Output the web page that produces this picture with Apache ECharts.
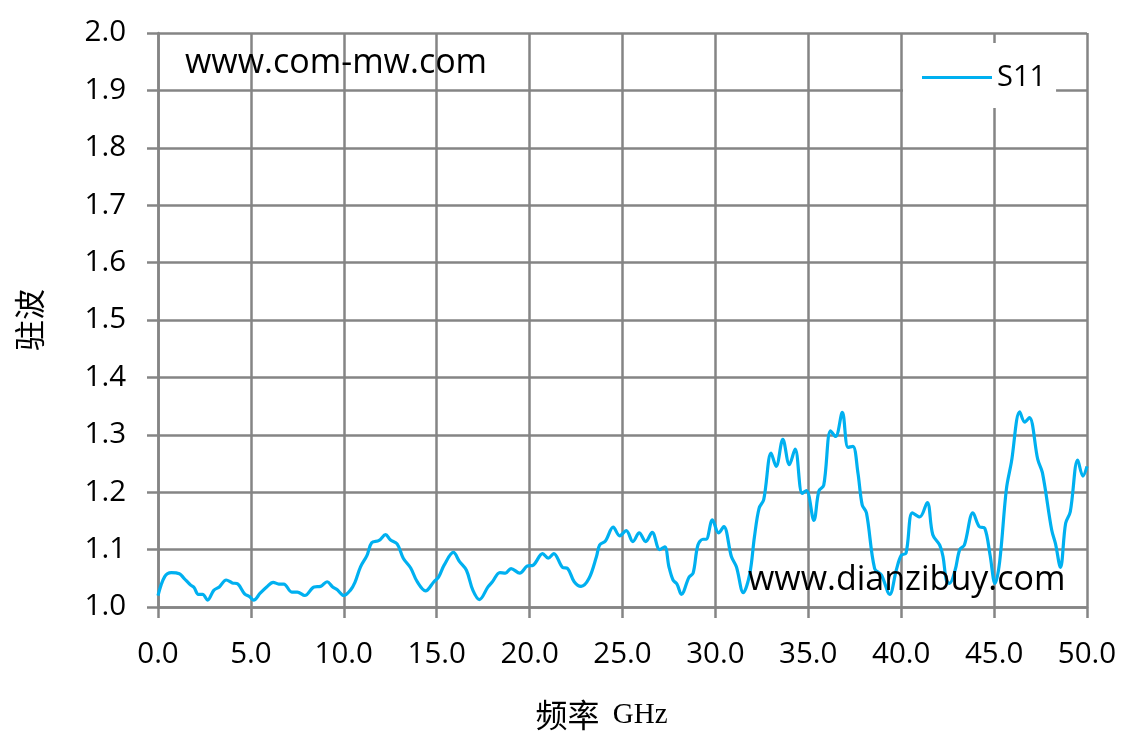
<!DOCTYPE html>
<html>
<head>
<meta charset="utf-8">
<script src="https://cdn.jsdelivr.net/npm/echarts@6/dist/echarts.min.js"></script>
<style>html,body{margin:0;padding:0;background:#fff;}#c{width:1128px;height:738px;}</style>
</head>
<body>
<div id="c"></div>
<script>
const seriesName = 'S11';
const xAxisName = ['频率', 'GHz'];
const yAxisName = '驻波';
const watermarks = ['www.com-mw.com', 'www.dianzibuy.com'];
const freqGHz = [0.0,0.36,0.72,1.15,1.4,1.76,1.94,2.17,2.4,2.67,3.0,3.3,3.67,4.0,4.3,4.66,4.93,5.15,5.5,5.85,6.2,6.5,6.77,7.2,7.5,7.9,8.4,8.75,9.1,9.4,9.65,10.0,10.35,10.6,10.9,11.25,11.5,11.9,12.25,12.5,12.87,13.2,13.6,13.95,14.4,14.85,15.1,15.4,15.9,16.23,16.6,16.95,17.3,17.76,18.0,18.4,18.7,19.0,19.47,19.86,20.2,20.7,21.0,21.3,21.77,22.05,22.4,22.77,23.2,23.6,23.77,24.08,24.5,24.85,25.2,25.56,25.9,26.25,26.6,27.0,27.27,27.5,27.72,27.93,28.17,28.58,28.8,29.06,29.33,29.5,29.84,30.17,30.45,30.86,31.13,31.5,31.85,32.1,32.35,32.6,33.0,33.27,33.63,33.98,34.29,34.67,34.9,35.3,35.57,35.83,36.2,36.47,36.83,37.14,37.4,37.67,37.9,38.13,38.57,38.93,39.38,39.74,40.0,40.26,40.6,41.0,41.4,41.7,42.07,42.25,42.43,42.6,42.9,43.15,43.4,43.86,44.2,44.5,44.78,45.05,45.3,45.66,45.93,46.38,46.65,46.9,47.35,47.6,48.1,48.3,48.57,48.85,49.1,49.5,49.78,50.0];
const vswr = [1.020,1.053,1.060,1.058,1.050,1.038,1.034,1.022,1.022,1.012,1.029,1.035,1.047,1.042,1.040,1.023,1.018,1.012,1.024,1.035,1.043,1.040,1.040,1.026,1.026,1.020,1.035,1.036,1.044,1.035,1.030,1.020,1.029,1.043,1.070,1.090,1.112,1.116,1.126,1.117,1.110,1.085,1.068,1.044,1.028,1.044,1.052,1.073,1.095,1.079,1.064,1.029,1.013,1.035,1.044,1.060,1.059,1.067,1.059,1.071,1.073,1.093,1.085,1.093,1.069,1.067,1.044,1.036,1.050,1.088,1.108,1.115,1.139,1.124,1.133,1.114,1.129,1.114,1.130,1.100,1.105,1.070,1.047,1.040,1.022,1.052,1.059,1.108,1.118,1.118,1.152,1.129,1.140,1.088,1.070,1.025,1.058,1.122,1.172,1.187,1.268,1.245,1.292,1.248,1.275,1.198,1.203,1.151,1.202,1.212,1.307,1.297,1.339,1.278,1.280,1.234,1.178,1.164,1.067,1.056,1.022,1.065,1.090,1.094,1.164,1.157,1.182,1.126,1.108,1.088,1.047,1.041,1.064,1.100,1.108,1.164,1.140,1.137,1.091,1.041,1.079,1.205,1.252,1.340,1.322,1.330,1.257,1.234,1.134,1.111,1.069,1.146,1.166,1.256,1.228,1.245];

const data = freqGHz.map((f, i) => [f, vswr[i]]);
const gridColor = '#858585';
const chart = echarts.init(document.getElementById('c'), null, {renderer: 'canvas'});
chart.setOption({
  animation: false,
  backgroundColor: '#fff',
  grid: {left: 158, right: 41, top: 33, bottom: 131, containLabel: false},
  xAxis: {
    type: 'value', min: 0, max: 50, interval: 5,
    name: '{cn|' + xAxisName[0] + '} {en|' + xAxisName[1] + '}', nameLocation: 'middle', nameGap: 92,
    nameTextStyle: {
      color: '#000',
      rich: {
        cn: {fontFamily: '"Noto Sans CJK SC"', fontSize: 32, color: '#000'},
        en: {fontFamily: 'Liberation Serif', fontSize: 29, color: '#000', padding: [0, 42, 0, 10]}
      }
    },
    axisLine: {show: true, onZero: false, lineStyle: {color: gridColor, width: 2.5}},
    axisTick: {show: true, inside: false, length: 11, lineStyle: {color: gridColor, width: 2.5}},
    axisLabel: {margin: 33, fontFamily: 'Open Sans', fontSize: 29.5, color: '#000', formatter: v => v.toFixed(1)},
    splitLine: {show: true, lineStyle: {color: gridColor, width: 2.5}}
  },
  yAxis: {
    type: 'value', min: 1.0, max: 2.0, interval: 0.1,
    name: yAxisName, nameLocation: 'middle', nameGap: 113, nameRotate: 90,
    nameTextStyle: {fontFamily: '"Noto Sans CJK SC"', fontSize: 31, color: '#000'},
    axisLine: {show: true, lineStyle: {color: gridColor, width: 2.5}},
    axisTick: {show: true, inside: false, length: 11, lineStyle: {color: gridColor, width: 2.5}},
    axisLabel: {margin: 32, fontFamily: 'Open Sans', fontSize: 29.5, color: '#000', formatter: v => v.toFixed(1)},
    splitLine: {show: true, lineStyle: {color: gridColor, width: 2.5}}
  },
  legend: {
    show: true, left: 903, top: 43, orient: 'vertical',
    backgroundColor: '#fff', padding: [20, 10, 16, 19],
    itemWidth: 70, itemHeight: 3, itemGap: 0, icon: 'rect',
    textStyle: {fontFamily: 'Open Sans', fontSize: 29, color: '#000', padding: [0, 0, 0, 0]},
    data: [{name: seriesName, itemStyle: {color: '#00B0F0'}}]
  },
  graphic: [
    {type: 'text', left: 185, top: 46, z: 100, style: {text: watermarks[0], font: '34px "Open Sans"', fill: '#000'}},
    {type: 'text', left: 748, top: 563, z: 100, style: {text: watermarks[1], font: '34px "Open Sans"', fill: '#000'}}
  ],
  series: [{
    name: seriesName, type: 'line', data: data, smooth: 0.35,
    showSymbol: false, symbol: 'none', z: 5,
    lineStyle: {color: '#00B0F0', width: 3.2},
    itemStyle: {color: '#00B0F0'}
  }]
});
</script>
</body>
</html>
